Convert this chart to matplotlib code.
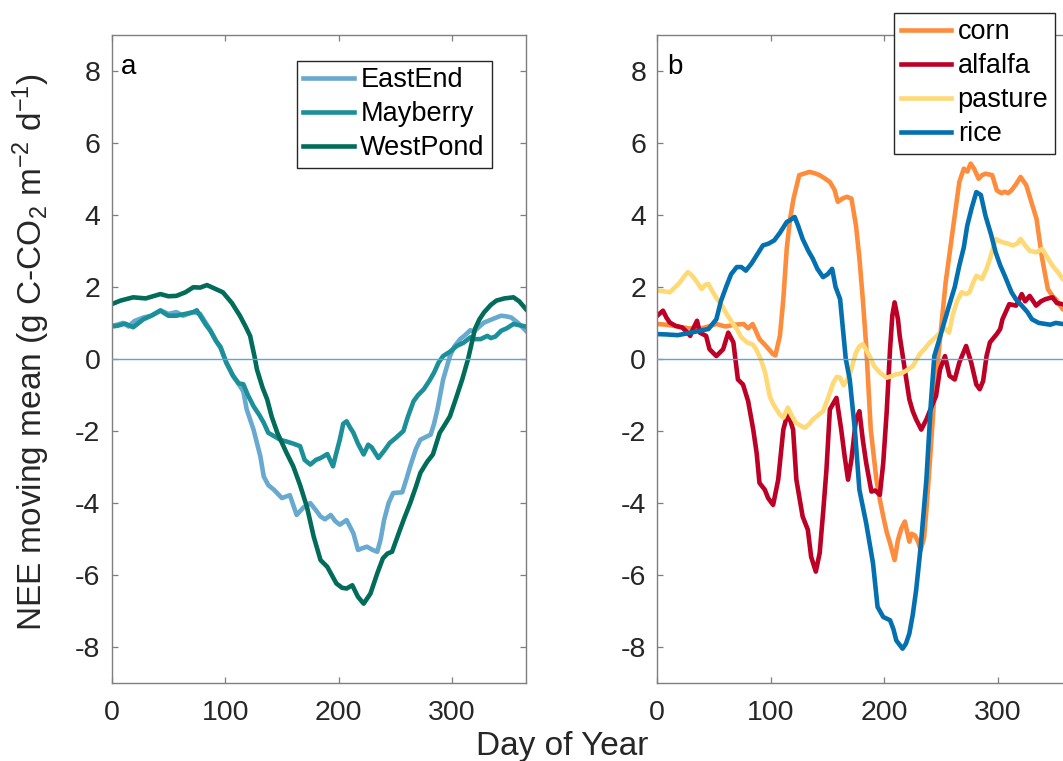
import matplotlib
matplotlib.use("Agg")
import matplotlib.pyplot as plt

plt.rcParams['font.family'] = ['Liberation Sans', 'DejaVu Sans']
plt.rcParams['mathtext.default'] = 'regular'
plt.rcParams['axes.unicode_minus'] = False

# ---------------- data (panel a: wetlands) ----------------
eastend_day = [0, 5, 10, 15, 20, 28, 35, 43, 50, 57, 63, 72, 78, 83, 87, 92, 96, 101, 107, 112, 116,
               119, 125, 131, 134, 138, 143, 150, 157, 163, 169, 175, 180, 184, 188, 193, 197, 201,
               207, 213, 217, 221, 225, 230, 234, 237, 240, 244, 248, 256, 260, 263, 268, 272, 281,
               284, 287, 292, 298, 302, 307, 311, 316, 319, 324, 328, 335, 343, 348, 352, 358, 365]
eastend_nee = [0.92, 0.95, 1.0, 0.9, 1.05, 1.15, 1.2, 1.35, 1.25, 1.3, 1.2, 1.3, 1.25, 1.0, 0.8, 0.5,
               0.3, -0.1, -0.47, -0.7, -0.9, -1.4, -1.96, -2.7, -3.26, -3.5, -3.63, -3.86, -3.78,
               -4.33, -4.12, -4.0, -4.2, -4.37, -4.45, -4.33, -4.5, -4.6, -4.47, -4.84, -5.3, -5.25,
               -5.21, -5.3, -5.35, -5.0, -4.47, -4.0, -3.72, -3.7, -3.3, -2.98, -2.5, -2.24, -2.1,
               -1.8, -1.4, -0.57, 0.08, 0.35, 0.55, 0.65, 0.8, 0.75, 0.9, 1.01, 1.1, 1.2, 1.18, 1.15,
               1.0, 0.78]

mayberry_day = [0, 5, 12, 19, 28, 35, 43, 50, 57, 65, 72, 75, 78, 83, 87, 92, 96, 101, 107, 112, 116,
                120, 125, 130, 134, 138, 143, 149, 154, 160, 166, 170, 175, 180, 184, 190, 195, 198,
                201, 204, 207, 210, 213, 217, 222, 226, 229, 235, 240, 245, 250, 257, 261, 266, 270,
                275, 280, 284, 288, 292, 298, 304, 310, 316, 320, 325, 331, 334, 338, 343, 348, 354,
                360, 365]
mayberry_nee = [0.9, 0.92, 0.98, 0.88, 1.1, 1.2, 1.34, 1.2, 1.2, 1.25, 1.3, 1.35, 1.2, 0.95, 0.78, 0.5,
                0.33, -0.1, -0.47, -0.68, -0.7, -1.0, -1.31, -1.55, -1.77, -2.05, -2.14, -2.25, -2.29,
                -2.35, -2.42, -2.8, -2.93, -2.8, -2.75, -2.64, -2.98, -2.6, -2.24, -1.8, -1.73, -1.9,
                -2.05, -2.35, -2.65, -2.38, -2.45, -2.75, -2.55, -2.33, -2.2, -2.0, -1.6, -1.17, -1.0,
                -0.84, -0.6, -0.38, -0.1, 0.08, 0.2, 0.36, 0.45, 0.6, 0.55, 0.55, 0.64, 0.58, 0.62,
                0.78, 0.85, 0.97, 0.93, 0.9]

westpond_day = [0, 8, 19, 30, 43, 50, 57, 65, 72, 78, 84, 91, 98, 106, 113, 118, 122, 126, 128, 133,
                137, 141, 146, 154, 160, 166, 172, 178, 184, 190, 194, 198, 203, 207, 212, 217, 222,
                228, 234, 239, 243, 247, 254, 258, 263, 268, 272, 278, 283, 289, 294, 298, 304, 309,
                314, 320, 324, 328, 334, 339, 346, 354, 359, 365]
westpond_nee = [1.52, 1.62, 1.71, 1.68, 1.8, 1.74, 1.75, 1.85, 1.99, 1.98, 2.05, 1.95, 1.85, 1.55, 1.2,
                0.9, 0.64, 0.05, -0.29, -0.8, -1.12, -1.6, -2.05, -2.6, -2.98, -3.5, -4.1, -4.93,
                -5.58, -5.77, -6.0, -6.23, -6.35, -6.37, -6.28, -6.6, -6.79, -6.51, -5.95, -5.53,
                -5.4, -5.35, -4.74, -4.4, -4.0, -3.55, -3.16, -2.85, -2.65, -2.05, -1.8, -1.59,
                -1.03, -0.55, 0.0, 0.83, 1.1, 1.29, 1.5, 1.62, 1.68, 1.71, 1.6, 1.38]

# ---------------- data (panel b: crops) ----------------
corn_day = [0, 8, 18, 28, 37, 45, 52, 60, 68, 76, 80, 84, 90, 96, 102, 104, 108, 111, 114, 117, 120,
            125, 130, 134, 139, 143, 148, 152, 156, 159, 163, 167, 171, 175, 178, 181, 184, 188, 193,
            196, 199, 202, 205, 209, 212, 215, 218, 222, 224, 227, 230, 232, 235, 237, 240, 244, 249,
            254, 260, 266, 270, 273, 276, 279, 283, 286, 289, 295, 299, 303, 306, 309, 312, 316, 320,
            325, 330, 334, 339, 344, 348, 351, 357, 365]
corn_nee = [0.97, 0.95, 0.9, 0.85, 0.83, 0.9, 0.97, 0.9, 0.95, 0.97, 0.85, 0.97, 0.55, 0.35, 0.13, 0.1,
            0.64, 1.66, 3.06, 3.9, 4.45, 5.1, 5.15, 5.19, 5.15, 5.1, 5.0, 4.91, 4.7, 4.36, 4.45, 4.5,
            4.45, 3.7, 2.8, 1.66, 0.36, -1.96, -3.35, -3.9, -4.37, -4.8, -5.11, -5.58, -5.02, -4.7,
            -4.51, -5.07, -4.85, -4.9, -5.1, -5.3, -4.95, -4.2, -2.89, -1.03, 0.55, 2.13, 3.52, 4.91,
            5.28, 5.2, 5.42, 5.28, 5.0, 5.1, 5.14, 5.1, 4.68, 4.6, 4.64, 4.6, 4.68, 4.85, 5.05, 4.82,
            4.3, 3.89, 2.78, 1.94, 1.75, 1.66, 1.38, 1.3]

alfalfa_day = [0, 5, 8, 11, 16, 22, 26, 29, 31, 35, 37.5, 43, 46, 52, 58, 62.5, 67, 71, 75.5, 80, 84.5,
               87.5, 90, 94.7, 97.6, 102, 106.5, 111, 115, 119.6, 122.5, 128, 132.6, 135.5, 139.6,
               143, 146, 149, 152, 157.8, 162, 165, 168, 171, 175, 178, 181, 184, 188.6, 192, 196,
               199, 202, 205, 207, 209, 212, 213.5, 218, 222, 225, 228, 232.5, 237, 243, 245.5, 249,
               253.4, 257.4, 262, 266, 272, 276.5, 281, 284, 287, 290, 293, 299, 302, 304, 310, 316,
               321, 324, 328, 333.7, 338, 342, 348, 352, 357, 365]
alfalfa_nee = [1.2, 1.34, 1.15, 1.01, 0.92, 0.87, 0.75, 0.64, 0.8, 1.06, 0.73, 0.64, 0.27, 0.08, 0.27,
               0.73, 0.46, -0.57, -0.71, -1.17, -1.96, -2.61, -3.44, -3.63, -3.86, -4.05, -3.35,
               -1.96, -1.49, -1.96, -3.35, -4.37, -4.74, -5.49, -5.9, -5.39, -4.28, -3.07, -1.4,
               -1.08, -1.96, -2.7, -3.35, -2.79, -1.68, -1.45, -2.24, -2.89, -3.68, -3.65, -3.77,
               -2.89, -1.49, 0.27, 1.2, 1.57, 1.1, 0.64, -0.29, -1.12, -1.45, -1.68, -1.96, -1.68,
               -1.21, -1.03, -0.29, 0.08, -0.47, -0.57, -0.1, 0.36, -0.1, -0.71, -0.84, -0.61, 0.08,
               0.46, 0.69, 0.83, 1.1, 1.52, 1.48, 1.8, 1.6, 1.75, 1.48, 1.6, 1.66, 1.71, 1.55, 1.52,
               1.45]

pasture_day = [0, 5, 11, 16, 20, 24, 27, 31, 35, 39, 42, 45, 49, 53, 57, 61, 64, 70, 74, 79, 84, 87,
               91, 95, 99, 102, 105, 108, 111, 115, 118, 122, 126, 130, 134, 137, 142, 146, 150, 155,
               158, 161, 164, 167, 170, 175, 178, 181, 184, 187, 191, 196, 202, 206, 210, 215, 219,
               225, 231, 236, 240, 245, 249, 253, 257, 260, 264, 268, 272, 275, 278, 281, 286, 290,
               293, 298, 301, 304, 309, 313, 317, 320, 324, 328, 334, 339, 343, 348, 353, 357, 365]
pasture_nee = [1.9, 1.88, 1.85, 2.0, 2.13, 2.3, 2.41, 2.3, 2.13, 1.94, 2.05, 2.08, 1.85, 1.65, 1.48,
               1.25, 1.1, 0.83, 0.6, 0.46, 0.4, 0.27, 0.0, -0.38, -1.03, -1.25, -1.4, -1.55, -1.63,
               -1.35, -1.55, -1.77, -1.85, -1.91, -1.8, -1.68, -1.55, -1.45, -1.12, -0.66, -0.5,
               -0.52, -0.73, -0.6, -0.38, 0.18, 0.35, 0.41, 0.25, 0.08, -0.2, -0.38, -0.52, -0.48,
               -0.43, -0.4, -0.33, -0.2, 0.13, 0.3, 0.46, 0.6, 0.73, 0.85, 0.73, 1.2, 1.6, 1.85, 1.8,
               1.85, 2.1, 2.31, 2.22, 2.5, 2.78, 3.33, 3.28, 3.24, 3.2, 3.15, 3.2, 3.33, 3.15, 3.0,
               2.96, 3.05, 2.85, 2.59, 2.4, 2.22, 2.05]

rice_day = [0, 8, 18, 28, 37, 45, 52, 56, 61, 65, 70, 74, 78, 83, 88, 93, 98, 103, 108, 114, 117, 121,
            124, 128, 133, 137, 141, 146, 150, 154, 157, 161, 166, 169.5, 174, 178, 184, 190, 194, 199,
            205, 208, 210.5, 216, 219, 222, 225, 228, 232, 237, 241, 244, 248, 251, 257, 262, 266,
            270, 273, 277, 281, 285, 289, 294, 298, 302, 306, 312, 316, 321, 326, 330, 336, 342, 346,
            351, 357, 365]
rice_nee = [0.69, 0.68, 0.66, 0.72, 0.78, 0.83, 1.1, 1.6, 2.03, 2.35, 2.55, 2.55, 2.45, 2.65, 2.9,
            3.15, 3.2, 3.29, 3.5, 3.8, 3.85, 3.94, 3.7, 3.33, 3.0, 2.78, 2.5, 2.27, 2.35, 2.5, 2.0,
            1.66, 0.0, -0.57, -1.96, -3.63, -4.56, -5.67, -6.88, -7.16, -7.25, -7.5, -7.81, -8.04,
            -7.9, -7.62, -7.1, -6.41, -5.21, -3.35, -1.21, 0.08, 0.5, 0.83, 1.48, 2.0, 2.59, 3.1,
            3.7, 4.2, 4.63, 4.55, 3.98, 3.45, 2.96, 2.6, 2.31, 1.85, 1.65, 1.48, 1.3, 1.1, 1.0, 0.97,
            0.95, 1.0, 0.97, 0.95]

wet_labels = ['EastEnd', 'Mayberry', 'WestPond']
crop_labels = ['corn', 'alfalfa', 'pasture', 'rice']
xticks = [0, 100, 200, 300]
yticks = [-8, -6, -4, -2, 0, 2, 4, 6, 8]

wet_colors = ['#67a9cf', '#1c9099', '#016c59']
crop_colors = ['#fd8d3c', '#bd0026', '#fed976', '#0570b0']

W, H = 1063, 761
fig = plt.figure(figsize=(W / 100, H / 100), dpi=100)

def px_rect(x0, y0, x1, y1):
    return [x0 / W, 1 - y1 / H, (x1 - x0) / W, (y1 - y0) / H]

ax1 = fig.add_axes(px_rect(111.6, 34.6, 526.0, 683.3))
ax2 = fig.add_axes(px_rect(657.3, 34.6, 1071.7, 683.3))

spine_col = '#7f7f7f'
text_col = '#262626'
LW = 3.3

def style(ax):
    ax.set_xlim(0, 365)
    ax.set_ylim(-9, 9)
    ax.set_xticks(xticks)
    ax.set_yticks(yticks)
    ax.tick_params(axis='both', direction='in', length=4.5, width=0.9, colors=spine_col,
                   labelcolor=text_col, labelsize=20.5, top=True, right=True)
    ax.tick_params(axis='x', pad=12)
    ax.tick_params(axis='y', pad=8)
    for s in ax.spines.values():
        s.set_color(spine_col)
        s.set_linewidth(1.0)
    ax.axhline(0, color='#5aa6d8', lw=1.0, zorder=5)

series_a = [(eastend_day, eastend_nee), (mayberry_day, mayberry_nee), (westpond_day, westpond_nee)]
for (d, v), c, lab in zip(series_a, wet_colors, wet_labels):
    ax1.plot(d, v, color=c, lw=LW, label=lab, solid_joinstyle='round')
style(ax1)

series_b = [(corn_day, corn_nee), (alfalfa_day, alfalfa_nee), (pasture_day, pasture_nee),
            (rice_day, rice_nee)]
for (d, v), c, lab in zip(series_b, crop_colors, crop_labels):
    ax2.plot(d, v, color=c, lw=LW, label=lab, solid_joinstyle='round')
style(ax2)

ax1.text(0.022, 0.94, 'a', transform=ax1.transAxes, fontsize=20, color='black', va='baseline')
ax2.text(0.023, 0.94, 'b', transform=ax2.transAxes, fontsize=20, color='black', va='baseline')

leg_kw = dict(fontsize=19.5, frameon=True, fancybox=False, edgecolor='#262626', framealpha=1,
              borderpad=0.25, handlelength=1.85, handletextpad=0.25, labelspacing=0.29,
              borderaxespad=0, loc='upper left', bbox_transform=fig.transFigure)
l1 = ax1.legend(bbox_to_anchor=(296.7 / W, 1 - 60.7 / H), **leg_kw)
l2 = ax2.legend(bbox_to_anchor=(894 / W, 1 - 12.7 / H), **leg_kw)
for l in (l1, l2):
    l.get_frame().set_linewidth(1.0)
    for t in l.get_texts():
        t.set_color('black')

fig.text(31.5 / W, 1 - 352 / H, r'NEE moving mean (g C-CO$_2$ m$^{-2}$ d$^{-1}$)', rotation=90,
         ha='center', va='center', fontsize=24, color=text_col)
fig.text(562 / W, 1 - 746 / H, 'Day of Year', ha='center', va='center', fontsize=24, color=text_col)

fig.savefig('out.png', dpi=100)
